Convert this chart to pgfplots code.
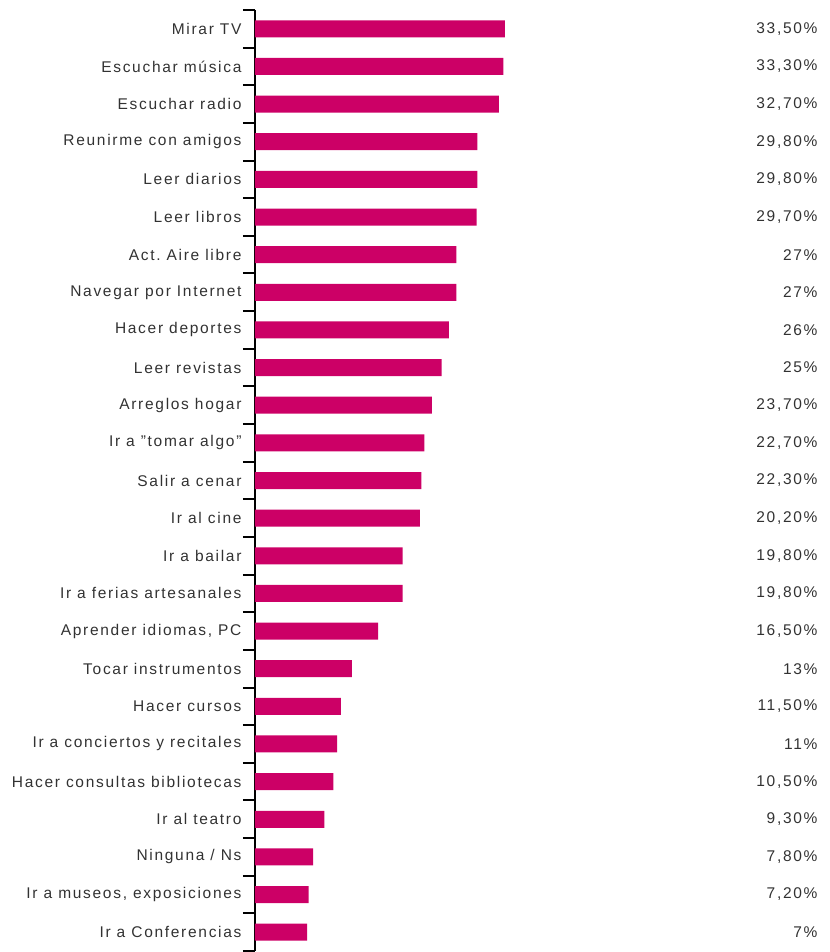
\documentclass[border=0pt]{standalone}
\usepackage{pgfplots}
\pgfplotsset{compat=1.18}
\usepackage{fontspec}
\setmainfont{Liberation Sans}[LetterSpace=11]
\definecolor{barmag}{RGB}{204,0,102}
\definecolor{txtgray}{RGB}{50,50,50}

\begin{document}
\begin{tikzpicture}
  % bars, category axis on the left
  \begin{axis}[name=main,
    scale only axis, width=567pt, height=941pt,
    xmin=0, xmax=76, ymin=-0.5, ymax=24.5,
    y dir=reverse,
    axis x line=none, axis y line=left,
    y axis line style={-, line width=2pt, black},
    ytick={0,...,24},
    minor ytick={-0.5,0.5,...,24.5},
    tick align=outside,
    major tick length=0pt, minor tick length=12pt,
    every minor tick/.append style={line width=2pt, black},
    yticklabels={Mirar TV, Escuchar música, Escuchar radio, Reunirme con amigos,
      Leer diarios, Leer libros, Act.\ Aire libre, Navegar por Internet,
      Hacer deportes, Leer revistas, Arreglos hogar, Ir a "tomar algo",
      Salir a cenar, Ir al cine, Ir a bailar, Ir a ferias artesanales,
      {Aprender idiomas, PC}, Tocar instrumentos, Hacer cursos,
      Ir a conciertos y recitales, Hacer consultas bibliotecas, Ir al teatro,
      Ninguna / Ns, {Ir a museos, exposiciones}, Ir a Conferencias},
    yticklabel style={font=\fontsize{15.5}{18}\selectfont, text=txtgray, xshift=-10pt},
    xbar, bar width=17pt,
  ]
    \addplot[fill=barmag, draw=none] coordinates {
      (33.5,0) (33.3,1) (32.7,2) (29.8,3) (29.8,4) (29.7,5)
      (27.0,6) (27.0,7) (26.0,8) (25.0,9) (23.7,10) (22.7,11)
      (22.3,12) (22.1,13) (19.8,14) (19.8,15) (16.5,16) (13.0,17)
      (11.5,18) (11.0,19) (10.5,20) (9.3,21) (7.8,22) (7.2,23) (7.0,24)
    };
  \end{axis}
  % value labels on the right
  \begin{axis}[
    scale only axis, width=567pt, height=941pt,
    xmin=0, xmax=76, ymin=-0.5, ymax=24.5,
    y dir=reverse,
    hide x axis, axis y line=right,
    y axis line style={draw=none},
    ytick={0,...,24}, major tick length=0pt,
    yticklabels={{33,50\%}, {33,30\%}, {32,70\%}, {29,80\%}, {29,80\%}, {29,70\%},
      27\%, 27\%, 26\%, 25\%, {23,70\%}, {22,70\%}, {22,30\%}, {20,20\%},
      {19,80\%}, {19,80\%}, {16,50\%}, 13\%, {11,50\%}, 11\%, {10,50\%},
      {9,30\%}, {7,80\%}, {7,20\%}, 7\%},
    yticklabel style={font=\fontsize{15.5}{18}\selectfont, text=txtgray, anchor=east, xshift=-1pt},
  ]
  \end{axis}
  \pgfresetboundingbox
  \path ([xshift=-255pt,yshift=-1pt]main.south west) rectangle ([xshift=7pt,yshift=10pt]main.north east);
\end{tikzpicture}
\end{document}
